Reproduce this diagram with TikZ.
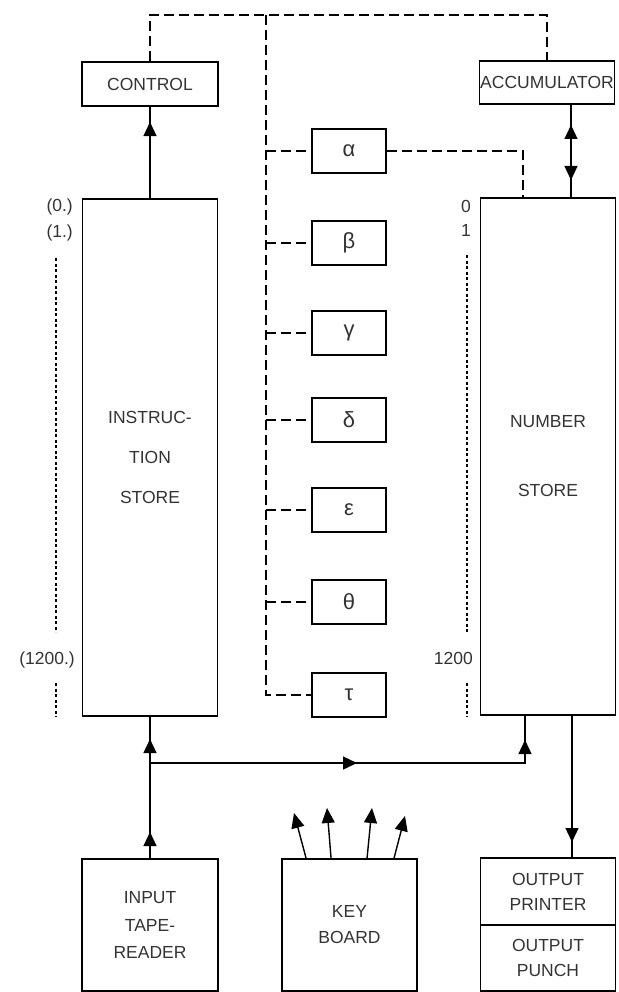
\documentclass[tikz,border=0pt]{standalone}
\usepackage{fontspec}
\setmainfont{Liberation Sans}
\usetikzlibrary{arrows.meta,decorations.markings,calc}
\newcommand\tipA{\arrow{Triangle[length=14pt,width=13pt]}}
\newcommand\tipR{\arrowreversed{Triangle[length=14pt,width=13pt]}}
\begin{document}
\begin{tikzpicture}[x=1pt,y=-1pt,
  box/.style={draw,line width=1.9pt,rectangle,inner sep=0pt,text=black!80,
    font=\fontsize{17.5}{26}\selectfont,align=center},
  greek/.style={box,minimum width=74pt,minimum height=44pt,font=\fontsize{22}{22}\selectfont},
  lbl/.style={inner sep=0pt,text=black!80,font=\fontsize{17.5}{17.5}\selectfont},
  wire/.style={line width=1.4pt},
  ctl/.style={line width=1.4pt,dash pattern=on 10pt off 5pt},
  addr/.style={line width=1.2pt,dash pattern=on 3pt off 2.5pt},
  kbarrow/.style={line width=1.4pt,-{Triangle[length=15pt,width=13pt]}}
]
\useasboundingbox (0,0) rectangle (618,992);

% main boxes
\node[box,minimum width=136pt,minimum height=44pt] (CT) at (150,84) {CONTROL};
\node[box,minimum width=135pt,minimum height=43pt] (AC) at (547,82.5) {ACCUMULATOR};
\node[box,minimum width=135pt,minimum height=517pt,font=\fontsize{17.5}{40}\selectfont] (IS) at (150,457.5) {INSTRUC-\\TION\\STORE};
\node[box,minimum width=135pt,minimum height=517pt,font=\fontsize{17.5}{69}\selectfont] (NS) at (548,456.5) {NUMBER\\STORE};

% greek boxes
\node[greek] (ga) at (349,151) {α};
\node[greek] (gb) at (349,243) {β};
\node[greek] (gc) at (349,333) {γ};
\node[greek] (gd) at (349,420) {δ};
\node[greek] (ge) at (349,510) {ε};
\node[greek] (gf) at (349,602) {θ};
\node[greek] (gg) at (349,695) {τ};

% bottom boxes
\node[box,minimum width=136pt,minimum height=132pt,font=\fontsize{17.5}{27.5}\selectfont] (IN) at (150,925) {INPUT\\TAPE-\\READER};
\node[box,minimum width=135pt,minimum height=132pt] (KB) at (349.5,925) {KEY\\BOARD};
\node[box,minimum width=135pt,minimum height=67pt,font=\fontsize{17.5}{25}\selectfont] (OP) at (548,891.5) {OUTPUT\\PRINTER};
\node[box,minimum width=135pt,minimum height=66pt,font=\fontsize{17.5}{25}\selectfont] (PU) at (548,958) {OUTPUT\\PUNCH};

% address labels
\node[lbl,anchor=east] (l0) at (73,207) {(0.)};
\node[lbl,anchor=east] (l1) at (73,233) {(1.)};
\node[lbl,anchor=east] (l1200) at (75,660) {(1200.)};
\node[lbl] (r0) at (466,206) {0};
\node[lbl] (r1) at (466,230) {1};
\node[lbl,anchor=east] (r1200) at (473,658) {1200};
\draw[addr] (56,258) -- (56,632);
\draw[addr] (56,683) -- (56,717);
\draw[addr] (467,255) -- (467,632);
\draw[addr] (467,683) -- (467,717);

% coordinates
\coordinate (topL) at (150,15);
\coordinate (topT) at (266,15);
\coordinate (topR) at (547,15);
\coordinate (trunkEnd) at (266,695);
\coordinate (aR) at (523,151);
\coordinate (nsA) at (523,198);
\coordinate (nsAcc) at (571,198);
\coordinate (accB) at (571,104);
\coordinate (split) at (150,763);
\coordinate (nsIn) at (525,715);
\coordinate (nsOut) at (572,715);
\coordinate (opIn) at (572,858);

% dashed control network
\draw[ctl] (CT.north) -- (topL) -- (topR) -- (AC.north);
\draw[ctl] (topT) -- (trunkEnd) -- (gg.west);
\foreach \g in {ga,gb,gc,gd,ge,gf}{
  \draw[ctl] (266,0 |- \g.west) -- (\g.west);
}
\draw[ctl] (ga.east) -- (aR) -- (nsA);

% solid connectors with arrowheads
\draw[wire,postaction={decorate},decoration={markings,mark=at position 76pt with {\tipA}}] (IS.north) -- (CT.south);
\draw[wire,postaction={decorate},decoration={markings,mark=at position 73pt with {\tipA},mark=at position 18pt with {\tipR}}] (nsAcc) -- (accB);
\draw[wire,postaction={decorate},decoration={markings,mark=at position 26pt with {\tipA},mark=at position 119pt with {\tipA}}] (IN.north) -- (IS.south);
\draw[wire,postaction={decorate},decoration={markings,mark=at position 207pt with {\tipA},mark=at position 398pt with {\tipA}}] (split) -| (nsIn);
\draw[wire,postaction={decorate},decoration={markings,mark=at position 127pt with {\tipA}}] (nsOut) -- (opIn);

% keyboard arrows
\coordinate (k1) at (294,813);
\coordinate (k2) at (327,808);
\coordinate (k3) at (372,808);
\coordinate (k4) at (405,816);
\draw[kbarrow] (KB.north west) ++(25,0) -- (k1);
\draw[kbarrow] (KB.north west) ++(50,0) -- (k2);
\draw[kbarrow] (KB.north west) ++(86,0) -- (k3);
\draw[kbarrow] (KB.north west) ++(113,0) -- (k4);
\end{tikzpicture}
\end{document}
